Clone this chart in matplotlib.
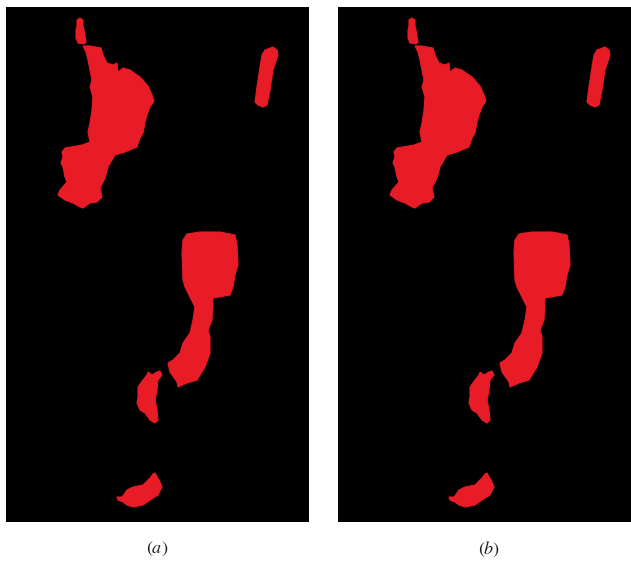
import matplotlib
matplotlib.use("Agg")
import matplotlib.pyplot as plt

# blob outlines in panel pixel coordinates (x, y measured from top-left of image)
island_top = [(80, 18), (83, 20), (83, 26), (84, 30), (85, 36), (86, 42), (84, 44),
              (78, 43), (76, 38), (76, 30), (77, 26), (77, 20)]

main_blob = [(83, 46), (86, 52), (88, 60), (92, 80), (90, 87), (93, 97), (92, 110), (90, 123),
             (88, 132), (90, 142), (82, 145), (65, 148), (62, 152), (63, 157), (61, 163),
             (63, 167), (65, 177), (67, 182), (60, 190), (58, 195), (65, 200), (73, 203),
             (80, 207), (83, 208), (90, 203), (97, 202), (102, 197), (100, 188),
             (105, 178), (108, 167), (115, 155), (125, 152), (137, 147), (140, 138),
             (143, 133), (145, 122), (147, 115), (150, 107), (154, 101), (152, 95),
             (148, 86), (140, 77), (130, 70), (123, 68), (118, 72), (117, 63),
             (113, 65), (107, 63), (103, 55), (101, 48), (90, 46)]

strip_blob = [(273, 47), (277, 50), (278, 55), (273, 70), (270, 90), (267, 105),
              (263, 107), (258, 105), (255, 102), (257, 87), (260, 67), (262, 55),
              (265, 50)]

tadpole_blob = [(187, 234), (200, 232), (220, 232), (235, 235), (237, 245), (238, 265),
                (235, 275), (233, 287), (230, 295), (213, 298), (212, 320), (208, 330),
                (210, 337), (210, 353), (205, 367), (197, 380), (187, 383), (178, 387),
                (177, 382), (170, 372), (168, 363), (173, 360), (180, 353), (183, 343),
                (190, 333), (193, 320), (195, 307), (190, 297), (185, 287), (183, 280),
                (182, 253), (183, 240)]

small_blob = [(148, 372), (152, 375), (157, 372), (160, 371), (162, 375), (158, 380),
              (157, 390), (155, 400), (157, 410), (158, 420), (155, 423), (150, 420),
              (145, 413), (140, 410), (137, 403), (138, 397), (138, 387), (143, 380),
              (147, 375)]

bottom_blob = [(155, 473), (160, 482), (162, 487), (158, 495), (150, 500), (143, 505),
               (133, 507), (127, 505), (123, 502), (118, 500), (117, 497), (122, 497),
               (125, 493), (127, 490), (133, 487), (143, 485), (150, 478), (153, 474)]

blobs = [island_top, main_blob, strip_blob, tadpole_blob, small_blob, bottom_blob]
letters = ["a", "b"]

RED = "#E81C26"

plt.rcParams["mathtext.fontset"] = "stix"
fig = plt.figure(figsize=(6.31, 5.62), dpi=100)

# panel a spans x 6..309, panel b spans 338..631 (right side cropped)
panels = [
    ([6 / 631, 1 - 522 / 562, 303 / 631, 515 / 562], (6, 309), 157 / 631),
    ([338 / 631, 1 - 522 / 562, 293 / 631, 515 / 562], (6, 299), 489 / 631),
]

for (rect, xlim, lx), letter in zip(panels, letters):
    ax = fig.add_axes(rect)
    ax.set_facecolor("black")
    for poly in blobs:
        xs = [p[0] for p in poly]
        ys = [p[1] for p in poly]
        ax.fill(xs, ys, color=RED, linewidth=0.8, edgecolor=RED)
    ax.set_xlim(*xlim)
    ax.set_ylim(522, 7)
    ax.set_xticks([])
    ax.set_yticks([])
    for s in ax.spines.values():
        s.set_visible(False)
    fig.text(lx, 1 - 549 / 562, r"$(\mathit{%s})$" % letter, ha="center", va="center",
             fontsize=13, color="#222222")

fig.savefig("out.png", dpi=100, facecolor="white")
